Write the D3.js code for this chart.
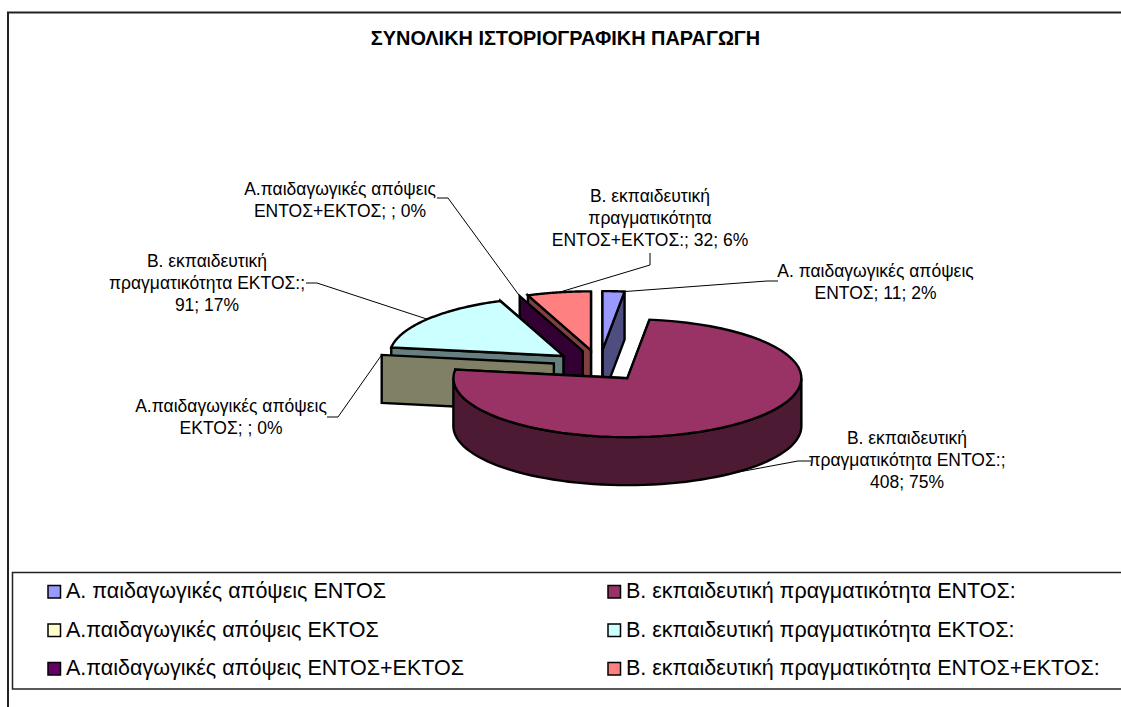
<!DOCTYPE html>
<html lang="el">
<head>
<meta charset="utf-8">
<title>ΣΥΝΟΛΙΚΗ ΙΣΤΟΡΙΟΓΡΑΦΙΚΗ ΠΑΡΑΓΩΓΗ</title>
<script src="https://cdn.jsdelivr.net/npm/d3@7/dist/d3.min.js"></script>
<style>
html,body{margin:0;padding:0;background:#fff}
svg{display:block}
text{font-family:"Liberation Sans",Arial,sans-serif;fill:#000}
</style>
</head>
<body>
<svg id="chart" width="1121" height="707"></svg>
<script>
const titleText = "ΣΥΝΟΛΙΚΗ ΙΣΤΟΡΙΟΓΡΑΦΙΚΗ ΠΑΡΑΓΩΓΗ";
const categories = [
  "Α. παιδαγωγικές απόψεις ΕΝΤΟΣ",
  "Β. εκπαιδευτική πραγματικότητα ΕΝΤΟΣ:",
  "Α.παιδαγωγικές απόψεις ΕΚΤΟΣ",
  "Β. εκπαιδευτική πραγματικότητα ΕΚΤΟΣ:",
  "Α.παιδαγωγικές απόψεις ΕΝΤΟΣ+ΕΚΤΟΣ",
  "Β. εκπαιδευτική πραγματικότητα ΕΝΤΟΣ+ΕΚΤΟΣ:"
];
const values = [11, 408, 0, 91, 0, 32];
const percents = ["2%", "75%", "0%", "17%", "0%", "6%"];
const colors = ["#9999FF", "#993366", "#FFFFCC", "#CCFFFF", "#660066", "#FF8080"];
const labelLines = [
  ["Α. παιδαγωγικές απόψεις", "ΕΝΤΟΣ; 11; 2%"],
  ["Β. εκπαιδευτική", "πραγματικότητα ΕΝΤΟΣ:;", "408; 75%"],
  ["Α.παιδαγωγικές απόψεις", "ΕΚΤΟΣ; ; 0%"],
  ["Β. εκπαιδευτική", "πραγματικότητα ΕΚΤΟΣ:;", "91; 17%"],
  ["Α.παιδαγωγικές απόψεις", "ΕΝΤΟΣ+ΕΚΤΟΣ; ; 0%"],
  ["Β. εκπαιδευτική", "πραγματικότητα", "ΕΝΤΟΣ+ΕΚΤΟΣ:; 32; 6%"]
];

// layout only
const drawOrder = [5, 0, 4, 3, 2, 1];
const labelCx = [875.5, 907, 231, 207, 340, 650];
const labelY0 = [277, 444, 412, 267, 194.5, 202];
const leaderStart = [[778,281],[811,461],[327,417],[306,283],[437,198],[650,253]];
const leaderElbow = [[767,281],[798,461],[338,417],[317,283],[448,198],[650,265]];
const leaderFrac = [1, .5, .5, .5, .5, .5];
const pieCx = 599.5, pieCy = 365.7, rx = 174, ry = 59, depth = 48, explode = 0.265;
const labelSize = 17.5, lineGap = 22.2, legendSize = 21.5;

const svg = d3.select("#chart");
const xS = d3.scaleLinear().domain([-1, 1]).range([pieCx - rx, pieCx + rx]);
const yS = d3.scaleLinear().domain([-1, 1]).range([pieCy + ry, pieCy - ry]);
const arcs = d3.pie().sort(null).value(d => d)(values);
const halve = c => { const r = d3.rgb(c); return d3.rgb(r.r / 2, r.g / 2, r.b / 2).formatHex(); };

// frame
svg.append("path").attr("d", "M8,707V12.5H1121").attr("fill", "none").attr("stroke", "#222").attr("stroke-width", 2);

svg.append("text").attr("x", 565.5).attr("y", 45).attr("text-anchor", "middle")
  .attr("font-size", 19.9).attr("font-weight", "bold").text(titleText);

const line = d3.line();
const mid = s => (s.startAngle + s.endAngle) / 2;
const apex = s => [xS(explode * Math.sin(mid(s))), yS(explode * Math.cos(mid(s)))];
const rim = (s, a) => [xS(Math.sin(a) + explode * Math.sin(mid(s))), yS(Math.cos(a) + explode * Math.cos(mid(s)))];
const down = p => [p[0], p[1] + depth];
const rimPts = (s, a0, a1) => d3.range(0, 65).map(i => rim(s, a0 + (a1 - a0) * i / 64));
const shape = (g, pts, fill) => g.append("path").attr("d", line(pts) + "Z").attr("fill", fill)
  .attr("stroke", "#000").attr("stroke-width", 2.4).attr("stroke-linejoin", "miter");

const pieG = svg.append("g");
drawOrder.forEach(i => {
  const s = arcs[i], g = pieG.append("g");
  const wall = halve(colors[i]), a = apex(s);
  [s.endAngle, s.startAngle].slice(0, s.endAngle > s.startAngle ? 2 : 1).forEach(ang => {
    const r = rim(s, ang);
    shape(g, [a, r, down(r), down(a)], wall);
  });
  const f0 = Math.max(s.startAngle, Math.PI / 2), f1 = Math.min(s.endAngle, 3 * Math.PI / 2);
  if (f1 > f0) {
    const top = rimPts(s, f0, f1);
    shape(g, top.concat(top.map(down).reverse()), wall);
  }
  if (s.endAngle > s.startAngle) {
    shape(g, [a].concat(rimPts(s, s.startAngle, s.endAngle)), colors[i]);
  }
});

// leaders and labels
labelLines.forEach((lines, i) => {
  const s = arcs[i];
  const ang = s.startAngle + (s.endAngle - s.startAngle) * leaderFrac[i];
  let end = rim(s, ang);
  if (Math.cos(ang) < 0 && Math.abs(Math.sin(ang)) < 1) end = down(end);
  svg.append("path").attr("d", line([leaderStart[i], leaderElbow[i], end]))
    .attr("fill", "none").attr("stroke", "#000").attr("stroke-width", 1);
  const t = svg.append("text").attr("text-anchor", "middle").attr("font-size", labelSize);
  lines.forEach((l, k) => t.append("tspan").attr("x", labelCx[i]).attr("y", labelY0[i] + k * lineGap).text(l));
});

// legend
svg.append("path").attr("d", "M1121,572.5H12.5V689H1121").attr("fill", "none").attr("stroke", "#222").attr("stroke-width", 1.5);
const colX = d3.scaleOrdinal().domain([0, 1]).range([48, 608]);
const rowY = d3.scaleLinear().domain([0, 2]).range([598, 675]);
categories.forEach((c, i) => {
  const col = i % 2, row = Math.floor(i / 2);
  svg.append("rect").attr("x", colX(col)).attr("y", rowY(row) - 12.5).attr("width", 12.5).attr("height", 12.5)
    .attr("fill", colors[i]).attr("stroke", "#000").attr("stroke-width", 1.5);
  svg.append("text").attr("x", colX(col) + 18).attr("y", rowY(row)).attr("font-size", legendSize).text(c);
});
</script>
</body>
</html>
